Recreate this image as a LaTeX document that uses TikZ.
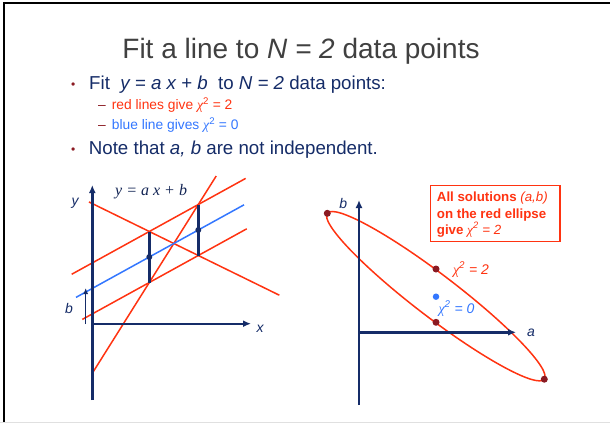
\documentclass[tikz,border=0pt]{standalone}
\usepackage{fontspec}
\setmainfont{Liberation Sans}
\newfontfamily\serifface{Liberation Serif}
\usetikzlibrary{calc,arrows.meta}
\definecolor{navy}{HTML}{152C68}
\definecolor{slred}{HTML}{FF3311}
\definecolor{slblue}{HTML}{3377FF}
\definecolor{dred}{HTML}{8B1A22}
\definecolor{tgrey}{HTML}{404040}
\newcommand{\chisq}{{\serifface\itshape χ}\textsuperscript{2}}
\tikzset{
  txt/.style={inner sep=0pt, anchor=base west},
  redline/.style={slred, line width=1.5pt},
  blueline/.style={slblue, line width=1.5pt},
  axis/.style={navy, line width=2.4pt, -{Latex[length=8pt,width=7pt]}},
  seg/.style={navy, line width=2.4pt},
  dotn/.style={circle, fill=navy, inner sep=0pt, minimum size=6pt},
  dotr/.style={circle, fill=dred, inner sep=0pt, minimum size=7pt},
  dotb/.style={circle, fill=slblue, inner sep=0pt, minimum size=6.5pt},
  big/.style={font=\fontsize{18.7}{22}\selectfont},
  small/.style={font=\fontsize{13.8}{16}\selectfont},
  boxtxt/.style={txt, text=slred, font=\fontsize{13.3}{15}\selectfont\bfseries},
  axlab/.style={inner sep=0pt, text=navy, font=\fontsize{14}{16}\selectfont\itshape},
}
\begin{document}
\begin{tikzpicture}[x=1pt,y=-1pt]
\useasboundingbox (0,0) rectangle (610,423);
\fill[white] (0,0) rectangle (610,423);
\fill[black!12] (0,421.5) rectangle (610,423);
\draw[line width=2.6pt] (4,421.5) -- (4,3) -- (610,3);

% title and bullets
\node[inner sep=0pt, anchor=base, text=tgrey, font=\fontsize{28}{32}\selectfont] (title) at (301,58) {Fit a line to \textit{N = 2} data points};
\node[txt, text=dred, font=\fontsize{12}{14}\selectfont] (bul1) at (71,88.5) {•};
\node[txt, big, text=navy] (t1) at (89,89) {Fit\ \ \textit{y = a x + b}\ \ to \textit{N = 2} data points:};
\node[txt, small, text=dred] (d1) at (98,109.3) {–};
\node[txt, small, text=slred] (s1) at (111.7,109.3) {red lines give \chisq\ = 2};
\node[txt, small, text=dred] (d2) at (98,129.3) {–};
\node[txt, small, text=slblue] (s2) at (111.7,129.3) {blue line gives \chisq\ = 0};
\node[txt, text=dred, font=\fontsize{12}{14}\selectfont] (bul2) at (71,153.8) {•};
\node[txt, big, text=navy] (t2) at (88.7,154.3) {Note that \textit{a, b} are not independent.};

% left plot
\coordinate (A1) at (149.3,231.5);
\coordinate (B1) at (149.3,282.5);
\coordinate (A2) at (198.3,204.5);
\coordinate (B2) at (198.3,255.5);
\coordinate (P1) at (149.3,257);
\coordinate (P2) at (198.3,230);
\draw[redline] ($(A1)!-1.584!(A2)$) -- ($(A1)!1.967!(A2)$);
\draw[redline] ($(B1)!-1.367!(B2)$) -- ($(B1)!1.988!(B2)$);
\draw[redline] ($(B1)!-1.173!(A2)$) -- ($(B1)!1.365!(A2)$);
\draw[redline] ($(A1)!-1.231!(B2)$) -- ($(A1)!2.653!(B2)$);
\draw[blueline] ($(P1)!-1.496!(P2)$) -- ($(P1)!1.933!(P2)$);
\coordinate (yb) at (92.3,400);
\coordinate (yt) at (92.3,185);
\coordinate (xo) at (91,323.7);
\coordinate (xt) at (251,323.7);
\draw[axis] (yb) -- (yt);
\draw[axis] (xo) -- (xt);
\coordinate (bb) at (85.7,324);
\coordinate (bt) at (85.7,288);
\draw[navy, line width=1.4pt, -{Latex[length=6pt,width=5pt]}] (bb) -- (bt);
\draw[seg] (A1) -- (B1);
\draw[seg] (A2) -- (B2);
\node[dotn] (p1) at (P1) {};
\node[dotn] (p2) at (P2) {};
\node[axlab] (ly) at (75,203) {y};
\node[axlab] (lx) at (260,329) {x};
\node[axlab] (lb) at (69,308) {b};
\node[txt, text=navy!80!black, font=\fontsize{16}{18}\selectfont\serifface\itshape] (eq) at (115,195.7) {y = a x + b};

% right plot
\coordinate (C) at (435.8,296.2);
\draw[slred, line width=1.5pt, rotate around={-37.4:(C)}] (C) ellipse [x radius=136.6, y radius=21.3];
\coordinate (vb) at (359,405);
\coordinate (vt) at (359,200);
\coordinate (ho) at (358,332.3);
\coordinate (ht) at (516,332.3);
\draw[axis] (vb) -- (vt);
\draw[axis] (ho) -- (ht);
\node[axlab] (lbb) at (343.3,203.5) {b};
\node[axlab] (laa) at (531,333) {a};
\node[dotr] (e1) at (327.3,213.3) {};
\node[dotr] (e2) at (544.3,379.2) {};
\node[dotr] (e3) at (436,269) {};
\node[dotr] (e4) at (436,322.3) {};
\node[dotb] (e0) at (436,296.7) {};
\node[inner sep=0pt, text=slred, font=\fontsize{14}{16}\selectfont\itshape] (c2) at (471,269.5) {\chisq\ = 2};
\node[inner sep=0pt, text=slblue, font=\fontsize{14}{16}\selectfont\itshape] (c0) at (456.5,308.5) {\chisq\ = 0};

\node[draw=slred, line width=1.2pt, fill=white, minimum width=129.3pt, minimum height=56pt, anchor=north west, inner sep=0pt] (box) at (430,185) {};
\node[boxtxt] (bx1) at (436.7,201.7) {All solutions \textit{\mdseries (a,b)}};
\node[boxtxt] (bx2) at (436.7,218.3) {on the red ellipse};
\node[boxtxt] (bx3) at (436.7,234) {give \textit{\mdseries\chisq\ = 2}};
\end{tikzpicture}
\end{document}
